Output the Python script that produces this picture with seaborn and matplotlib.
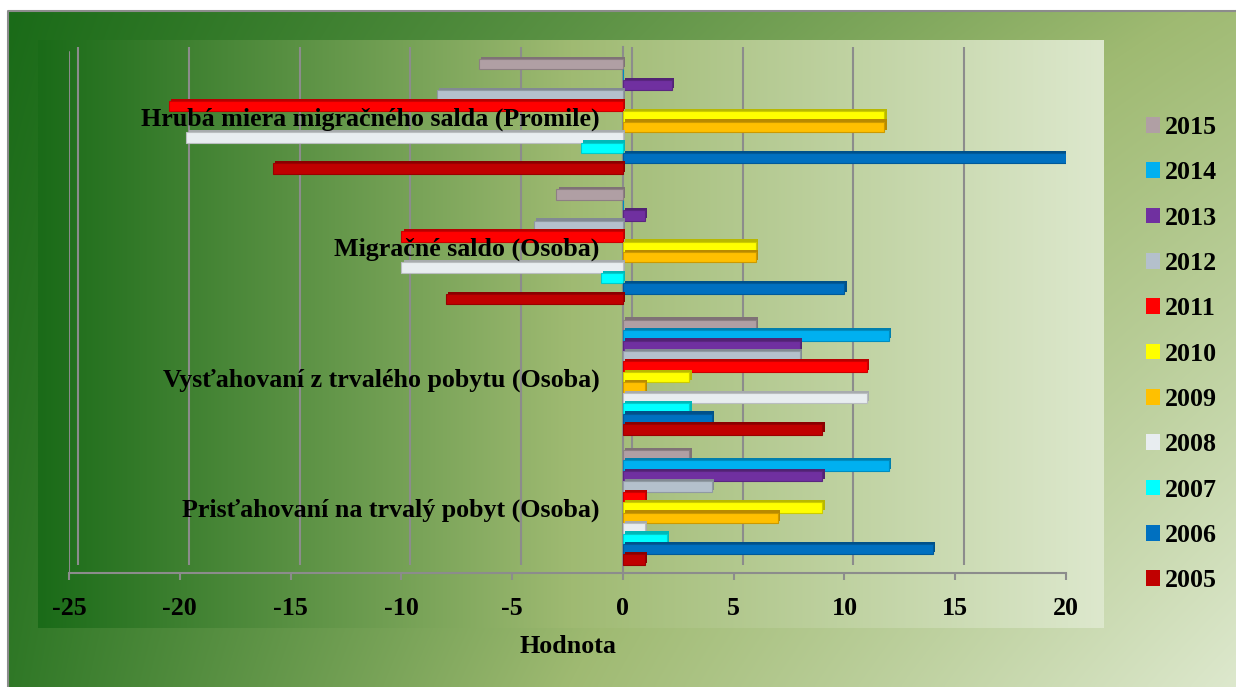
import numpy as np
import pandas as pd
import matplotlib
matplotlib.use("Agg")
import matplotlib.pyplot as plt
import matplotlib.patheffects as pe
import seaborn as sns
from matplotlib.transforms import Affine2D
from matplotlib.patches import Patch
from matplotlib.colors import to_rgb

# ---------------- data ----------------
categories = [
    "Hrubá miera migračného salda (Promile)",
    "Migračné saldo (Osoba)",
    "Vysťahovaní z trvalého pobytu (Osoba)",
    "Prisťahovaní na trvalý pobyt (Osoba)",
]
years = ["2005", "2006", "2007", "2008", "2009", "2010",
         "2011", "2012", "2013", "2014", "2015"]
v2005 = [-15.8, -8, 9, 1]
v2006 = [20.0, 10, 4, 14]
v2007 = [-1.9, -1, 3, 2]
v2008 = [-19.7, -10, 11, 1]
v2009 = [11.8, 6, 1, 7]
v2010 = [11.8, 6, 3, 9]
v2011 = [-20.5, -10, 11, 1]
v2012 = [-8.4, -4, 8, 4]
v2013 = [2.2, 1, 8, 9]
v2014 = [0, 0, 12, 12]
v2015 = [-6.5, -3, 6, 3]
series = [v2005, v2006, v2007, v2008, v2009, v2010,
          v2011, v2012, v2013, v2014, v2015]
colors = ["#C00000", "#0070C0", "#00FFFF", "#E8EDF0", "#FFC000", "#FFFF00",
          "#FF0000", "#B4C0CC", "#7030A0", "#00B0F0", "#B09FA4"]
xticks = [-25, -20, -15, -10, -5, 0, 5, 10, 15, 20]

rows = []
for y, vals in zip(years, series):
    for c, v in zip(categories, vals):
        rows.append({"category": c, "year": y, "value": v})
df = pd.DataFrame(rows)

palette = dict(zip(years, colors))
hue_order = years[::-1]

# ---------------- figure ----------------
sns.set_style("white")
plt.rcParams["font.family"] = ["Liberation Serif", "DejaVu Serif"]
plt.rcParams["font.weight"] = "bold"
plt.rcParams["text.color"] = "black"

W, H = 1236, 687
fig = plt.figure(figsize=(W / 100, H / 100), dpi=100)
fig.patch.set_facecolor("white")

# background gradients
def ramp(t):
    stops = np.array([0.0, 0.5, 1.0])
    cols = np.array([to_rgb("#1a6b18"), to_rgb("#9fba72"), to_rgb("#dde8cd")])
    out = np.empty(t.shape + (3,))
    for k in range(3):
        out[..., k] = np.interp(t, stops, cols[:, k])
    return out

bg = fig.add_axes([0, 0, 1, 1], zorder=-10)
bg.axis("off")
xx, yy = np.meshgrid(np.linspace(0, 1, 400), np.linspace(0, 1, 220))
t_outer = (0.0 * (1 - xx) * (1 - yy) + 0.52 * xx * (1 - yy)
           + 0.08 * (1 - xx) * yy + 1.0 * xx * yy)
bg.imshow(ramp(t_outer), extent=(8, W, H, 11), aspect="auto", interpolation="bilinear")
tin = np.tile(np.linspace(0, 1, 400), (10, 1))
bg.imshow(ramp(tin), extent=(38, 1104, 628, 40), aspect="auto", interpolation="bilinear")
bg.plot([8, 8, W], [H, 11, 11], color="#8c8c8c", lw=1.5)
bg.set_xlim(0, W)
bg.set_ylim(H, 0)

# main axes (front plane)
x0, x1, ytop, ybot = 69, 1066, 47, 573
ax = fig.add_axes([x0 / W, 1 - ybot / H, (x1 - x0) / W, (ybot - ytop) / H])
ax.set_facecolor("none")

sns.barplot(data=df, x="value", y="category", hue="year", order=categories,
            hue_order=hue_order, palette=palette, orient="h", width=0.882,
            saturation=1, errorbar=None, legend=False, ax=ax, zorder=2)

for p in ax.patches:
    fc = np.array(p.get_facecolor()[:3])
    p.set_edgecolor(tuple(fc * 0.8))
    p.set_linewidth(0.8)
    p.set_path_effects([pe.SimplePatchShadow(offset=(1.6, 1.6), shadow_rgbFace=tuple(fc * 0.72),
                                             alpha=1.0),
                        pe.Normal()])

ax.set_xlim(-25, 20)
ax.set_ylim(3.503, -0.533)
ax.set_xticks(xticks)
ax.set_xticklabels([str(v) for v in xticks])

# back-plane grid lines (3D offset)
off = ax.get_xaxis_transform() + Affine2D().translate(9, 0)
ax.vlines(xticks, 0.015, 1.0, transform=off, color="#8c8c8c", lw=1.5, zorder=1)
ax.axvline(ax.get_xlim()[0], 0, 0.99, color="#8c8c8c", lw=1.5, zorder=1)

for s in ["top", "right"]:
    ax.spines[s].set_visible(False)
ax.spines["left"].set_position(("data", 0))
ax.spines["left"].set_color("#8c8c8c")
ax.spines["left"].set_linewidth(1.5)
ax.spines["left"].set_zorder(1.5)
ax.spines["bottom"].set_color("#8c8c8c")
ax.spines["bottom"].set_linewidth(1.5)
ax.yaxis.set_zorder(5)
ax.xaxis.set_zorder(5)

ax.tick_params(axis="x", length=5, width=1.5, color="#8c8c8c", pad=12,
               labelsize=18.7, labelcolor="black", bottom=True)
ax.tick_params(axis="y", length=0, pad=17, labelsize=18.7, labelcolor="black")
for lab in ax.get_xticklabels() + ax.get_yticklabels():
    lab.set_fontweight("bold")

ax.set_ylabel("")
ax.set_xlabel("Hodnota", fontsize=18.7, fontweight="bold", labelpad=11,
              color="black")

handles = [Patch(facecolor=palette[y], edgecolor="none", label=y) for y in hue_order]
fig.legend(handles=handles, loc="upper left",
           bbox_to_anchor=(1146 / W, 1 - 116 / H), frameon=False,
           prop={"family": ["Liberation Serif"], "weight": "bold", "size": 18.7},
           handlelength=0.54, handleheight=0.54, handletextpad=0.2,
           labelspacing=0.86, borderpad=0, borderaxespad=0)

fig.savefig("out.png", dpi=100)
